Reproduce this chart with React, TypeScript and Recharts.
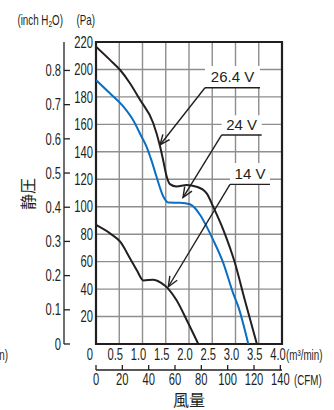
import {
  LineChart,
  Line,
  XAxis,
  YAxis,
  CartesianGrid,
  ReferenceArea,
  ReferenceLine,
} from 'recharts'

const SANS = "'Liberation Sans', Arial, sans-serif"
const CJK = "'Noto Sans CJK JP', sans-serif"
const INK = '#231f20'
const BLUE = '#0a6fc2'
const GRID = '#8e8e8e'
const SQUEEZE = 0.7

const PA_PER_INCH = 249.089
const CFM_PER_M3 = 35.3147

// axes
const FLOW_TICKS = [0, 0.5, 1, 1.5, 2, 2.5, 3, 3.5, 4]
const FLOW_LABELS = ['0', '0.5', '1.0', '1.5', '2.0', '2.5', '3.0', '3.5', '4.0']
const PA_TICKS = [20, 40, 60, 80, 100, 120, 140, 160, 180, 200, 220]
const INCH_TICKS = [0, 0.1, 0.2, 0.3, 0.4, 0.5, 0.6, 0.7, 0.8]
const CFM_TICKS = [0, 20, 40, 60, 80, 100, 120, 140]

// P-Q curves: flow (m³/min), static pressure (Pa)
const FLOW_264 = [0, 0.3, 0.52, 0.73, 0.95, 1.23, 1.38, 1.45, 1.52, 1.59, 1.73, 1.95, 2.16, 2.38, 2.52, 2.74, 2.99, 3.2, 3.46]
const PRES_264 = [216.6, 207, 199.6, 190, 177.7, 161, 143.7, 133, 122, 116.5, 114.8, 115.8, 114.6, 109.8, 100, 83, 58.8, 32, 0]

const FLOW_24 = [0, 0.3, 0.59, 0.8, 0.98, 1.09, 1.2, 1.3, 1.45, 1.56, 1.81, 2.02, 2.24, 2.38, 2.52, 2.74, 2.95, 3.06, 3.275]
const PRES_24 = [192.3, 182.6, 172.9, 163, 151, 143.5, 133, 122, 107.3, 103, 102.9, 101.8, 94, 85.5, 75.8, 58.8, 36.9, 27.2, 0]

const FLOW_14 = [0, 0.3, 0.52, 0.73, 0.875, 1.02, 1.23, 1.4, 1.56, 1.73, 1.95, 2.2]
const PRES_14 = [86.7, 80.6, 74.5, 62.5, 53.9, 46.3, 46.8, 44.5, 40, 32, 17.5, 0]

// voltage callouts: label box, underline and arrow tip in chart units
const CALLOUTS = [
  { label: '26.4 V', q1: 2.344, q2: 3.527, pTop: 202.5, pLine: 186.7, tipQ: 1.376, tipP: 145 },
  { label: '24 V', q1: 2.703, q2: 3.563, pTop: 166.7, pLine: 152.3, tipQ: 1.871, tipP: 106.7 },
  { label: '14 V', q1: 2.882, q2: 3.742, pTop: 131.9, pLine: 116.3, tipQ: 1.555, tipP: 41.7 },
]

const toPoints = (flow: number[], pres: number[]) => flow.map((q, i) => ({ q, p: pres[i] }))

const curve264 = toPoints(FLOW_264, PRES_264)
const curve24 = toPoints(FLOW_24, PRES_24)
const curve14 = toPoints(FLOW_14, PRES_14)

// inner axes are named "a_*" and declared last, outer ones "b_*" and declared first
const X_IN = 'a_flow'
const X_OUT = 'b_cfm'
const Y_IN = 'a_pa'
const Y_OUT = 'b_inch'

// condensed text, the reference uses a narrow grotesque
function Cond({ x, y, anchor = 'start', dy = 0, size = 16, children }: any) {
  return (
    <text
      transform={`translate(${x} ${y}) scale(${SQUEEZE} 1)`}
      dy={dy}
      textAnchor={anchor}
      fontFamily={SANS}
      fontSize={size}
      fill={INK}
    >
      {children}
    </text>
  )
}

function FlowTick({ x, y, payload }: any) {
  const i = FLOW_TICKS.indexOf(payload.value)
  const first = payload.value === 0
  return (
    <Cond x={first ? x - 3 : x - 4} y={y} dy="0.71em" anchor={first ? 'end' : 'middle'}>
      {FLOW_LABELS[i]}
    </Cond>
  )
}

function CfmTick({ x, y, payload }: any) {
  return (
    <g>
      <line x1={x} x2={x} y1={y - 9} y2={y - 4} stroke={INK} strokeWidth={1.3} />
      <Cond x={x} y={y} dy="0.71em" anchor="middle">
        {payload.value}
      </Cond>
    </g>
  )
}

function PaTick({ x, y, payload }: any) {
  return (
    <Cond x={x} y={y} dy="0.355em" anchor="end">
      {payload.value}
    </Cond>
  )
}

function InchTick({ x, y, payload }: any) {
  return (
    <g>
      <line x1={x + 3} x2={x + 9} y1={y} y2={y} stroke={INK} strokeWidth={1.3} />
      <Cond x={x} y={y} dy="0.355em" anchor="end">
        {payload.value === 0 ? '0' : payload.value.toFixed(1)}
      </Cond>
    </g>
  )
}

function Arrow(props: any) {
  const { x1, y1, x2, y2 } = props
  const a = Math.atan2(y2 - y1, x2 - x1)
  const len = 11
  const spread = 0.4
  const h1x = x2 - len * Math.cos(a - spread)
  const h1y = y2 - len * Math.sin(a - spread)
  const h2x = x2 - len * Math.cos(a + spread)
  const h2y = y2 - len * Math.sin(a + spread)
  return (
    <g stroke={INK} strokeWidth={1.4} fill="none">
      <line x1={x1} y1={y1} x2={x2} y2={y2} />
      <polyline points={`${h1x},${h1y} ${x2},${y2} ${h2x},${h2y}`} />
    </g>
  )
}

function InchUnits({ viewBox }: any) {
  const { x, y, width, height } = viewBox
  const cx = x - 3.5
  const cy = y + height / 2 + 1
  return (
    <g>
      <Cond x={x + width - 1} y={y - 17} anchor="end" size={14}>
        (inch H<tspan fontSize={9.5} dy={2}>2</tspan>
        <tspan dy={-2}>O)</tspan>
      </Cond>
      <text
        x={cx}
        y={cy}
        textAnchor="middle"
        dominantBaseline="central"
        fontFamily={CJK}
        fontSize={16}
        fill={INK}
        transform={`rotate(-90 ${cx} ${cy})`}
      >
        静圧
      </text>
    </g>
  )
}

function PaUnits({ viewBox }: any) {
  const { x, y, width } = viewBox
  return (
    <Cond x={x + width - 1} y={y - 17} anchor="end" size={14}>
      (Pa)
    </Cond>
  )
}

function FlowUnits({ viewBox }: any) {
  const { x, y, width } = viewBox
  return (
    <g>
      <Cond x={x + width + 4} y={y + 15.5} size={14}>
        (m³/min)
      </Cond>
      <Cond x={x - 88} y={y + 15.5} anchor="end" size={14}>
        (m³/min)
      </Cond>
    </g>
  )
}

function CfmUnits({ viewBox }: any) {
  const { x, y, width } = viewBox
  return (
    <g>
      <Cond x={x + width + 12} y={y + 15} size={14}>
        (CFM)
      </Cond>
      <text x={x + width / 2} y={y + 35.5} textAnchor="middle" fontFamily={CJK} fontSize={16} fill={INK}>
        風量
      </text>
    </g>
  )
}

export default function App() {
  return (
    <div style={{ position: 'absolute', left: 0, top: 0, width: 334, height: 410, background: '#fff' }}>
      <LineChart width={334} height={410} margin={{ top: 42, right: 52, bottom: 10, left: 30 }}>
        <XAxis
          xAxisId={X_OUT}
          dataKey="q"
          type="number"
          scale="linear"
          domain={[0, 4 * CFM_PER_M3]}
          ticks={CFM_TICKS}
          interval={0}
          allowDataOverflow
          height={30}
          axisLine={{ stroke: INK, strokeWidth: 1.3 }}
          tickLine={false}
          tickSize={0}
          tickMargin={4}
          tick={(p: any) => <CfmTick {...p} />}
          label={{ content: (p: any) => <CfmUnits {...p} /> }}
        />
        <XAxis
          xAxisId={X_IN}
          dataKey="q"
          type="number"
          domain={[0, 4]}
          ticks={FLOW_TICKS}
          interval={0}
          allowDataOverflow
          height={26}
          axisLine={false}
          tickLine={false}
          tickSize={0}
          tickMargin={5}
          tick={(p: any) => <FlowTick {...p} />}
          label={{ content: (p: any) => <FlowUnits {...p} /> }}
        />
        <YAxis
          yAxisId={Y_OUT}
          type="number"
          domain={[0, 220 / PA_PER_INCH]}
          ticks={INCH_TICKS}
          interval={0}
          allowDataOverflow
          width={34}
          axisLine={{ stroke: INK, strokeWidth: 1.3 }}
          tickLine={false}
          tickSize={0}
          tickMargin={3}
          tick={(p: any) => <InchTick {...p} />}
          label={{ content: (p: any) => <InchUnits {...p} /> }}
        />
        <YAxis
          yAxisId={Y_IN}
          type="number"
          domain={[0, 220]}
          ticks={PA_TICKS}
          interval={0}
          allowDataOverflow
          width={32}
          axisLine={false}
          tickLine={false}
          tickSize={0}
          tickMargin={3}
          tick={(p: any) => <PaTick {...p} />}
          label={{ content: (p: any) => <PaUnits {...p} /> }}
        />
        <CartesianGrid xAxisId={X_IN} yAxisId={Y_IN} stroke={GRID} strokeWidth={1.4} />

        {CALLOUTS.map(c => (
          <ReferenceArea
            key={c.label}
            xAxisId={X_IN}
            yAxisId={Y_IN}
            x1={c.q1}
            x2={c.q2}
            y1={c.pLine}
            y2={c.pTop}
            fill="#fff"
            fillOpacity={1}
            stroke="none"
            label={{ value: c.label, position: 'center', fill: INK, fontSize: 15, fontFamily: SANS }}
          />
        ))}

        <Line
          xAxisId={X_IN}
          yAxisId={Y_IN}
          data={curve264}
          dataKey="p"
          type="monotone"
          stroke={INK}
          strokeWidth={2}
          dot={false}
          isAnimationActive={false}
        />
        <Line
          xAxisId={X_IN}
          yAxisId={Y_IN}
          data={curve24}
          dataKey="p"
          type="monotone"
          stroke={BLUE}
          strokeWidth={2}
          dot={false}
          isAnimationActive={false}
        />
        <Line
          xAxisId={X_IN}
          yAxisId={Y_IN}
          data={curve14}
          dataKey="p"
          type="monotone"
          stroke={INK}
          strokeWidth={2}
          dot={false}
          isAnimationActive={false}
        />

        {CALLOUTS.map(c => (
          <ReferenceLine
            key={c.label + '-u'}
            xAxisId={X_IN}
            yAxisId={Y_IN}
            segment={[{ x: c.q2, y: c.pLine }, { x: c.q1, y: c.pLine }]}
            stroke={INK}
            strokeWidth={1.4}
          />
        ))}
        {CALLOUTS.map(c => (
          <ReferenceLine
            key={c.label + '-a'}
            xAxisId={X_IN}
            yAxisId={Y_IN}
            segment={[{ x: c.q1, y: c.pLine }, { x: c.tipQ, y: c.tipP }]}
            shape={(p: any) => <Arrow {...p} />}
          />
        ))}

        <ReferenceArea
          xAxisId={X_IN}
          yAxisId={Y_IN}
          x1={0}
          x2={4}
          y1={0}
          y2={220}
          fill="none"
          stroke={INK}
          strokeWidth={2.2}
        />
      </LineChart>
    </div>
  )
}
